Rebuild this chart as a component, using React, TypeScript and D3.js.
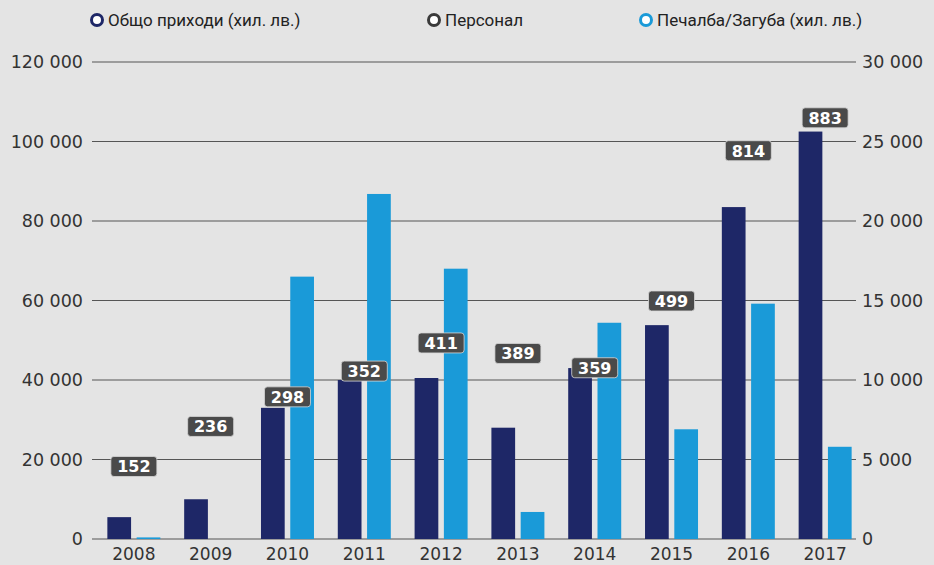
import React from "react";
import * as d3 from "d3";

// data
const years = ["2008", "2009", "2010", "2011", "2012", "2013", "2014", "2015", "2016", "2017"];
const revenue = [5500, 10000, 33000, 40000, 40500, 28000, 43000, 53800, 83500, 102500]; // хил. лв.
const staff = [152, 236, 298, 352, 411, 389, 359, 499, 814, 883];
const profit = [100, 0, 16500, 21700, 17000, 1700, 13600, 6900, 14800, 5800]; // хил. лв.
const leftTicks = [0, 20000, 40000, 60000, 80000, 100000, 120000];
const rightTicks = [0, 5000, 10000, 15000, 20000, 25000, 30000];

const W = 934;
const H = 565;
const NAVY = "#1e2767";
const BLUE = "#1a9ad8";
const GREY = "#4a4a4a";
const BG = "#e4e4e4";
const FONT = "'DejaVu Sans', sans-serif";

const fmt = (v: number) => d3.format(",")(v).replace(/,/g, " ");

const App = () => {
  const top = 62, bottom = 539;
  const gridL = 92, gridR = 856;

  const x = d3.scaleBand<string>().domain(years).range([92, 867]).paddingInner(0.31).paddingOuter(0.2);
  const sub = d3.scaleBand<string>().domain(["r", "p"]).range([0, x.bandwidth()]).paddingInner(0.19);
  const yL = d3.scaleLinear().domain([0, 120000]).range([bottom, top]);
  const yR = d3.scaleLinear().domain([0, 30000]).range([bottom, top]);
  const yS = d3.scaleLinear().domain([0, 1000]).range([bottom, top]);

  const legend = [
    { label: "Общо приходи (хил. лв.)", color: NAVY, x: 97 },
    { label: "Персонал", color: "#3a3a3a", x: 434 },
    { label: "Печалба/Загуба (хил. лв.)", color: BLUE, x: 646 },
  ];

  return (
    <svg width={W} height={H} style={{ position: "absolute", left: 0, top: 0, display: "block" }}>
      <rect width={W} height={H} fill={BG} />

      {/* legend */}
      {legend.map((l) => (
        <g key={l.label} transform={`translate(${l.x},20)`}>
          <circle r={5.5} fill="#fff" stroke={l.color} strokeWidth={3} />
          <text x={11} y={6} fontFamily="Roboto, sans-serif" fontSize={17} fill="#222">
            {l.label}
          </text>
        </g>
      ))}

      {/* grid */}
      {leftTicks.map((t) => (
        <line key={t} x1={gridL} x2={gridR} y1={yL(t)} y2={yL(t)} stroke="#555" strokeWidth={1} />
      ))}

      {/* left axis labels */}
      {leftTicks.map((t) => (
        <text key={t} x={83} y={yL(t) + 6} textAnchor="end" fontFamily={FONT} fontSize={17.5} fill="#333">
          {fmt(t)}
        </text>
      ))}
      {/* right axis labels */}
      {rightTicks.map((t) => (
        <text key={t} x={862} y={yR(t) + 6} fontFamily={FONT} fontSize={17.5} fill="#333">
          {fmt(t)}
        </text>
      ))}

      {/* bars */}
      {years.map((yr, i) => (
        <g key={yr} transform={`translate(${x(yr)},0)`}>
          <rect x={sub("r")} y={yL(revenue[i])} width={sub.bandwidth()} height={bottom - yL(revenue[i])} fill={NAVY} />
          <rect x={sub("p")} y={yR(profit[i])} width={sub.bandwidth()} height={bottom - yR(profit[i])} fill={BLUE} />
        </g>
      ))}

      {/* staff labels */}
      {years.map((yr, i) => {
        const cx = (x(yr) as number) + x.bandwidth() / 2;
        const cy = yS(staff[i]);
        return (
          <g key={yr} transform={`translate(${cx},${cy})`}>
            <rect x={-23} y={-10} width={46} height={20} rx={3} fill={GREY} stroke="#d8d8d8" strokeWidth={0.8} />
            <text y={6} textAnchor="middle" fontFamily={FONT} fontWeight="bold" fontSize={16} fill="#fff">
              {staff[i]}
            </text>
          </g>
        );
      })}

      {/* year labels */}
      {years.map((yr) => (
        <text key={yr} x={(x(yr) as number) + x.bandwidth() / 2} y={560} textAnchor="middle" fontFamily={FONT} fontSize={17} fill="#333">
          {yr}
        </text>
      ))}
    </svg>
  );
};

export default App;
